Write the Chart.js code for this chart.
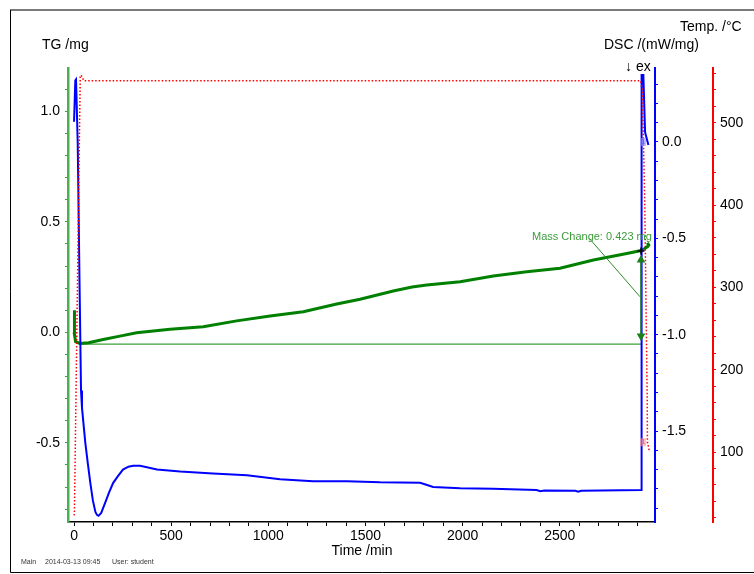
<!DOCTYPE html>
<html>
<head>
   <meta charset="utf-8">
   <script src="https://cdn.jsdelivr.net/npm/chart.js@4.4.1/dist/chart.umd.min.js"></script>
   <title>TG / DSC</title>
   <style>
      body { margin: 0; background: #fff; }
   </style>
</head>
<body>
<canvas id="tga" width="754" height="574"></canvas>
<script>
   // tick labels
   const timeLabels = [0, 500, 1000, 1500, 2000, 2500];
   const tgLabels = [-0.5, 0.0, 0.5, 1.0];
   const dscLabels = [-1.5, -1.0, -0.5, 0.0];
   const tempLabels = [100, 200, 300, 400, 500];

   // TG curve (mg)
   const tgTime = [0, 1.5, 3, 8, 30, 75, 150, 236, 322, 494, 665, 837, 1009, 1180, 1352, 1472, 1643, 1740, 1815, 1987, 2158, 2330, 2501, 2673, 2845, 2913, 2935, 2952, 2958, 2950];
   const tgMass = [0.0, 0.10, -0.01, -0.042, -0.05, -0.047, -0.032, -0.017, -0.002, 0.014, 0.025, 0.052, 0.074, 0.093, 0.128, 0.150, 0.187, 0.205, 0.214, 0.229, 0.255, 0.274, 0.290, 0.327, 0.357, 0.369, 0.378, 0.388, 0.395, 0.405];

   // DSC curve (mW/mg)
   const dscTime = [0, 6.7, 10.3, 19, 29, 36, 41, 58, 70, 84, 97, 110, 118, 126, 140, 161, 180, 201, 225, 252, 280, 304, 340, 427, 546, 715, 890, 1060, 1230, 1405, 1575, 1781, 1817, 1848, 1987, 2156, 2380, 2400, 2420, 2580, 2595, 2610, 2918, 2921, 2930, 2939, 2956];
   const dscValue = [0.105, 0.32, 0.325, -0.005, -0.78, -1.29, -1.38, -1.56, -1.66, -1.77, -1.86, -1.92, -1.935, -1.94, -1.925, -1.87, -1.82, -1.77, -1.735, -1.70, -1.685, -1.68, -1.68, -1.70, -1.71, -1.72, -1.73, -1.75, -1.76, -1.76, -1.766, -1.768, -1.78, -1.79, -1.797, -1.80, -1.806, -1.812, -1.808, -1.81, -1.815, -1.81, -1.806, 0.348, 0.348, 0.05, -0.016];

   // temperature programme (°C)
   const tempTime = [0, 2, 32, 37, 50, 2915, 2925, 2937, 2950, 2951, 2960];
   const tempValue = [23, 25, 556, 558, 551, 551, 540, 406, 163, 112, 102];

   // mass change evaluation
   const massChangeText = 'Mass Change: 0.423 mg';
   const massTextAt = [2357, 0.42];
   const baseTime = [30, 2918];
   const baseMass = [-0.053, -0.053];
   const arrowTime = [2918, 2918];
   const arrowMass = [-0.017, 0.327];
   const leaderTime = [2652, 2913];
   const leaderMass = [0.425, 0.161];
   const crossTime = [2918];
   const crossMass = [0.368];

   const pts = (xs, ys) => xs.map((x, i) => ({x: x, y: ys[i]}));

   const FONT = "'Liberation Sans', Arial, sans-serif";

   function stepTicks(step) {
      return function (scale) {
         const t = [];
         const start = Math.ceil(scale.min / step - 1e-9);
         for (let k = start; k * step <= scale.max + 1e-9; k++) {
            t.push({value: +(k * step).toFixed(6)});
         }
         scale.ticks = t;
      };
   }
   function labelIf(list, digits) {
      return function (v) {
         return list.some(l => Math.abs(l - v) < 1e-6) ? v.toFixed(digits) : '';
      };
   }

   const decor = {
      id: 'decor',
      afterDraw(chart) {
         const ctx = chart.ctx;
         const s = chart.scales;
         ctx.save();
         // page frame
         ctx.strokeStyle = '#7a7a7a';
         ctx.lineWidth = 2;
         ctx.beginPath(); ctx.moveTo(10, 10); ctx.lineTo(754, 10); ctx.stroke();
         ctx.strokeStyle = '#000';
         ctx.lineWidth = 1;
         ctx.beginPath(); ctx.moveTo(10.5, 10); ctx.lineTo(10.5, 572.5); ctx.lineTo(754, 572.5); ctx.stroke();

         // axis titles
         ctx.fillStyle = '#000';
         ctx.font = '14px ' + FONT;
         ctx.textBaseline = 'middle';
         ctx.textAlign = 'left';
         ctx.fillText('TG /mg', 42, 45);
         ctx.fillText('DSC /(mW/mg)', 604, 45);
         ctx.fillText('Temp. /\u00B0C', 680, 27);
         ctx.fillText('\u2193 ex', 625, 67);
         ctx.textAlign = 'center';
         ctx.fillText('Time /min', 362, 551);

         // footer
         ctx.font = '7px ' + FONT;
         ctx.textAlign = 'left';
         ctx.fillStyle = '#333';
         ctx.fillText('Main', 21, 562);
         ctx.fillText('2014-03-13 09:45', 45, 562);
         ctx.fillText('User: student', 112, 562);

         // mass change text
         ctx.font = '11px ' + FONT;
         ctx.fillStyle = '#3c9c3c';
         ctx.textBaseline = 'alphabetic';
         ctx.fillText(massChangeText, s.x.getPixelForValue(massTextAt[0]), s.yTG.getPixelForValue(massTextAt[1]));

         // segment markers
         ctx.font = '8px ' + FONT;
         ctx.textBaseline = 'middle';
         let px = s.x.getPixelForValue(2918), py = s.yDSC.getPixelForValue(0.0);
         ctx.fillStyle = 'rgba(150,150,255,0.6)';
         ctx.fillRect(px - 1, py - 4, 6, 8);
         ctx.fillStyle = '#55f';
         ctx.fillText('1', px, py);
         py = s.yT.getPixelForValue(112);
         ctx.fillStyle = 'rgba(255,150,150,0.6)';
         ctx.fillRect(px - 1, py - 4, 6, 8);
         ctx.fillStyle = '#f55';
         ctx.fillText('1', px, py);
         ctx.restore();
      }
   };

   const tickFont = {family: FONT, size: 14};

   new Chart(document.getElementById('tga'), {
      type: 'line',
      data: {
         datasets: [
            {
               data: pts(tempTime, tempValue), yAxisID: 'yT', order: 1,
               borderColor: '#ff0000', borderWidth: 1.5, borderDash: [1.5, 2],
               pointRadius: 0, fill: false
            },
            {
               data: pts(dscTime, dscValue), yAxisID: 'yDSC', order: 2,
               borderColor: '#0000ff', borderWidth: 2,
               pointRadius: 0, fill: false
            },
            {
               data: pts(tgTime, tgMass), yAxisID: 'yTG', order: 3,
               borderColor: '#008000', borderWidth: 3,
               pointRadius: 0, fill: false
            },
            {
               data: pts(baseTime, baseMass), yAxisID: 'yTG', order: 4,
               borderColor: '#3ca03c', borderWidth: 1.2,
               pointRadius: 0, fill: false
            },
            {
               data: pts(arrowTime, arrowMass), yAxisID: 'yTG', order: 0,
               borderColor: '#1a801a', borderWidth: 1.5,
               pointStyle: 'triangle', pointRotation: [180, 0], pointRadius: 3.5,
               pointBackgroundColor: '#1a801a', pointBorderColor: '#1a801a', fill: false
            },
            {
               data: pts(leaderTime, leaderMass), yAxisID: 'yTG', order: 0,
               borderColor: '#2a8a2a', borderWidth: 1,
               pointRadius: 0, fill: false
            },
            {
               data: pts(crossTime, crossMass), yAxisID: 'yTG', order: 0,
               showLine: false, pointStyle: 'cross', pointRadius: 3.5,
               pointBorderColor: '#000', pointBorderWidth: 1.5
            }
         ]
      },
      options: {
         responsive: false,
         animation: false,
         events: [],
         layout: {padding: {left: 10, top: 68, right: 0, bottom: 0}},
         plugins: {legend: {display: false}, tooltip: {enabled: false}},
         elements: {line: {tension: 0}},
         scales: {
            x: {
               type: 'linear', min: -31, max: 2990,
               afterBuildTicks: stepTicks(100),
               afterFit: (sc) => { sc.height = 52; },
               border: {color: '#000', width: 1.5},
               grid: {drawOnChartArea: false, color: '#000', tickLength: 4},
               ticks: {font: tickFont, color: '#000', padding: 2, autoSkip: false, maxRotation: 0,
                  callback: labelIf(timeLabels, 0)}
            },
            yTG: {
               type: 'linear', position: 'left', min: -0.858, max: 1.196,
               afterBuildTicks: stepTicks(0.1),
               afterFit: (sc) => { sc.width = 58; },
               border: {color: '#4caf50', width: 2.5},
               grid: {drawOnChartArea: false, color: '#3a9a3a', tickLength: 3},
               ticks: {font: tickFont, color: '#000', padding: 5, autoSkip: false,
                  callback: labelIf(tgLabels, 1)}
            },
            yDSC: {
               type: 'linear', position: 'right', weight: 0, min: -1.972, max: 0.384,
               afterBuildTicks: stepTicks(0.1),
               afterFit: (sc) => { sc.width = 58; },
               border: {color: '#0000ff', width: 2},
               grid: {drawOnChartArea: false, color: '#0000ff', tickLength: 3},
               ticks: {font: tickFont, color: '#000', padding: 4, autoSkip: false,
                  callback: labelIf(dscLabels, 1)}
            },
            yT: {
               type: 'linear', position: 'right', weight: 1, min: 15, max: 566.5,
               afterBuildTicks: stepTicks(20),
               afterFit: (sc) => { sc.width = 41; },
               border: {color: '#ff0000', width: 2},
               grid: {drawOnChartArea: false, color: '#ff0000', tickLength: 3},
               ticks: {font: tickFont, color: '#000', padding: 4, autoSkip: false,
                  callback: labelIf(tempLabels, 0)}
            }
         }
      },
      plugins: [decor]
   });
</script>
</body>
</html>
